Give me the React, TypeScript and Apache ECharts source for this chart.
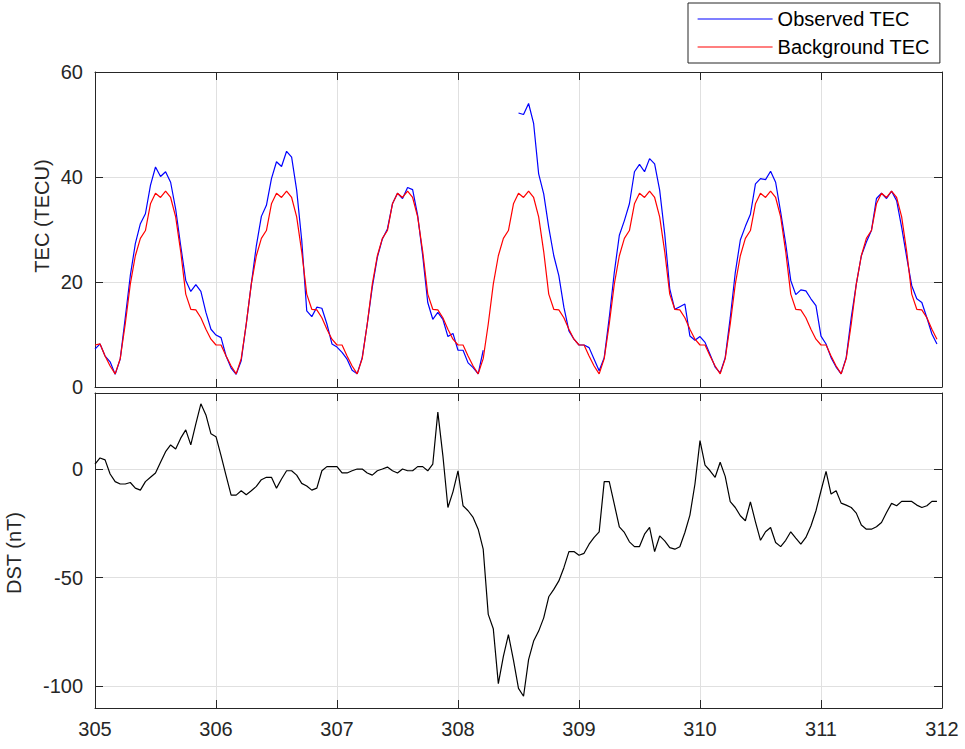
import React, { useEffect, useRef } from "react";
import * as echarts from "echarts";

// Time axis: hourly samples starting at day-of-year 305
const startDay = 305;
const samplesPerDay = 24;

// Observed TEC (TECU), hourly; null = no data
const observedTEC: (number | null)[] = [
  // 305
  7.2, 8.2, 5.9, 4.8, 2.4, 5.3, 13.2, 21.2, 27.3, 31.1, 33.0, 38.4, 41.9, 40.1, 41.0, 39.0, 33.9, 26.9, 20.3, 18.2, 19.5, 18.2, 14.2, 11.0,
  // 306
  9.9, 9.4, 5.9, 3.6, 2.4, 5.0, 12.0, 19.6, 26.9, 32.5, 34.6, 39.7, 42.9, 42.0, 44.9, 43.8, 37.5, 28.0, 14.5, 13.4, 15.2, 15.0, 12.0, 8.2,
  // 307
  7.6, 6.6, 5.3, 3.2, 2.5, 5.6, 12.0, 19.0, 24.7, 28.2, 30.1, 34.9, 36.9, 35.9, 38.0, 37.6, 32.7, 25.0, 16.1, 12.9, 14.2, 12.9, 9.6, 10.2,
  // 308
  7.0, 7.0, 4.6, 3.7, 2.5, 7.0, null, null, null, null, null, null, 52.2, 51.9, 54.0, 50.2, 40.6, 36.8, 30.4, 25.0, 21.2, 15.2, 10.7, 9.1,
  // 309
  8.0, 8.0, 7.5, 5.3, 3.1, 5.6, 13.2, 21.8, 28.9, 31.7, 34.9, 41.0, 42.4, 41.0, 43.5, 42.5, 37.5, 29.2, 18.7, 14.8, 15.3, 15.8, 9.7, 8.9,
  // 310
  9.6, 8.5, 6.2, 3.8, 2.7, 5.6, 13.2, 21.8, 28.0, 30.6, 32.9, 38.7, 39.7, 39.5, 41.1, 39.0, 33.3, 27.3, 20.3, 17.6, 18.5, 18.3, 16.8, 15.5,
  // 311
  9.7, 8.2, 5.6, 3.8, 2.5, 5.6, 13.2, 19.6, 25.0, 27.6, 29.8, 35.9, 36.9, 35.9, 37.3, 35.5, 30.4, 24.7, 19.3, 16.8, 16.1, 13.2, 10.1, 8.2,
];

// Background TEC (TECU), hourly
const backgroundTEC: number[] = [
  8.0, 8.2, 5.9, 4.0, 2.5, 5.4, 12.0, 19.6, 25.0, 28.3, 29.8, 34.9, 36.9, 36.1, 37.3, 36.1, 32.4, 25.8, 17.7, 14.8, 14.7, 13.2, 11.0, 9.1,
  8.0, 8.0, 5.9, 4.0, 2.5, 5.4, 12.0, 19.6, 25.0, 28.3, 29.8, 34.9, 36.9, 36.1, 37.3, 36.1, 32.4, 25.8, 17.7, 14.8, 14.7, 13.2, 11.0, 9.1,
  8.0, 8.0, 5.9, 4.0, 2.5, 5.4, 12.0, 19.6, 25.0, 28.3, 29.8, 34.9, 36.9, 36.1, 37.3, 36.1, 32.4, 25.8, 17.7, 14.8, 14.7, 13.2, 11.0, 9.1,
  8.0, 8.0, 5.9, 4.0, 2.5, 5.4, 12.0, 19.6, 25.0, 28.3, 29.8, 34.9, 36.9, 36.1, 37.3, 36.1, 32.4, 25.8, 17.7, 14.8, 14.7, 13.2, 11.0, 9.1,
  8.0, 8.0, 5.9, 4.0, 2.5, 5.4, 12.0, 19.6, 25.0, 28.3, 29.8, 34.9, 36.9, 36.1, 37.3, 36.1, 32.4, 25.8, 17.7, 14.8, 14.7, 13.2, 11.0, 9.1,
  8.0, 8.0, 5.9, 4.0, 2.5, 5.4, 12.0, 19.6, 25.0, 28.3, 29.8, 34.9, 36.9, 36.1, 37.3, 36.1, 32.4, 25.8, 17.7, 14.8, 14.7, 13.2, 11.0, 9.1,
  8.0, 8.0, 5.9, 4.0, 2.5, 5.4, 12.0, 19.6, 25.0, 28.3, 29.8, 34.9, 36.9, 36.1, 37.3, 36.1, 32.4, 25.8, 17.7, 14.8, 14.7, 13.2, 11.0, 9.1,
];

// DST index (nT), hourly
const dst: number[] = [
  // 305
  2.3, 5.1, 4.2, -2.3, -5.8, -6.9, -6.9, -6.2, -8.8, -9.7, -5.8, -3.8, -1.8, 3.1, 8.0, 11.1, 9.2, 14.2, 18.0, 11.1, 20.8, 30.0, 24.9, 16.2,
  // 306
  14.9, 6.2, -3.0, -12.0, -12.0, -10.0, -11.8, -10.0, -8.0, -4.9, -3.8, -3.8, -8.8, -4.6, -0.8, -0.8, -2.8, -6.6, -7.8, -9.7, -8.8, -0.8, 1.1, 1.1,
  // 307
  1.1, -1.8, -1.8, -0.8, 0.0, 0.0, -1.8, -2.8, -0.8, 0.0, 0.9, -0.8, -1.8, 0.0, -0.8, -0.8, 1.1, 1.1, -0.8, 2.3, 26.2, 6.2, -17.7, -10.5,
  // 308
  -0.8, -16.9, -19.2, -22.3, -27.7, -36.9, -66.9, -73.5, -98.8, -86.2, -76.2, -88.0, -101.0, -104.6, -87.7, -79.2, -74.6, -68.5, -58.8, -55.4, -51.5, -45.4, -38.0, -38.0,
  // 309
  -39.7, -38.8, -34.6, -31.5, -28.9, -5.8, -5.8, -16.2, -26.6, -29.2, -33.5, -35.7, -35.7, -30.0, -26.9, -38.0, -30.8, -33.1, -36.2, -36.9, -35.8, -29.2, -21.2, -6.9,
  // 310
  13.1, 1.8, -0.8, -3.8, 3.1, -3.4, -15.0, -17.7, -21.5, -23.8, -15.1, -24.3, -32.8, -28.9, -26.9, -33.8, -35.7, -32.8, -28.9, -31.8, -34.6, -31.5, -26.2, -19.2,
  // 311
  -10.0, -1.1, -11.5, -10.0, -15.7, -16.6, -17.7, -20.3, -25.8, -27.7, -27.7, -26.6, -24.6, -20.0, -15.8, -16.9, -14.9, -14.9, -14.9, -16.6, -17.7, -16.9, -14.9, -14.9,
];

const dayTicks = [305, 306, 307, 308, 309, 310, 311, 312];
const tecTicks = [0, 20, 40, 60];
const dstTicks = [-100, -50, 0];

const AX = "#262626";
const GRID = "#e0e0e0";
const FONT = "Liberation Sans, Arial, sans-serif";

function timeOf(i: number) {
  return startDay + i / samplesPerDay;
}

export default function App() {
  const ref = useRef<HTMLDivElement>(null);

  useEffect(() => {
    if (!ref.current) return;
    const chart = echarts.init(ref.current, null, { renderer: "svg" });

    const obsData = observedTEC.map((v, i) => [timeOf(i), v === null ? "-" : v]);
    const bgData = backgroundTEC.map((v, i) => [timeOf(i), v]);
    const dstData = dst.map((v, i) => [timeOf(i), v]);

    const tick = { show: true, inside: true, length: 8, lineStyle: { color: AX, width: 1 } };
    const line = { show: true, onZero: false, lineStyle: { color: AX, width: 1 } };
    const label = { color: AX, fontSize: 20, fontFamily: FONT };

    const xBase = (grid: number, pos: string, showLabel: boolean, showSplit: boolean) => ({
      type: "value",
      gridIndex: grid,
      position: pos,
      min: dayTicks[0],
      max: dayTicks[dayTicks.length - 1],
      interval: 1,
      axisLine: line,
      axisTick: tick,
      axisLabel: { ...label, show: showLabel, margin: 11 },
      splitLine: { show: showSplit, lineStyle: { color: GRID, width: 1 } },
    });

    const option: any = {
      animation: false,
      backgroundColor: "#ffffff",
      textStyle: { fontFamily: FONT },
      grid: [
        { left: 95, top: 72, width: 847, height: 315 },
        { left: 95, top: 393, width: 847, height: 315 },
      ],
      legend: {
        data: ["Observed TEC", "Background TEC"],
        orient: "vertical",
        left: 688,
        top: 3,
        padding: [6, 10, 6, 9],
        itemGap: 8,
        itemWidth: 75,
        itemHeight: 22,
        borderColor: AX,
        borderWidth: 1,
        borderRadius: 0,
        backgroundColor: "#ffffff",
        itemStyle: { opacity: 0 },
        lineStyle: { width: 1.2 },
        textStyle: { color: "#000", fontSize: 20, fontFamily: FONT, padding: [0, 0, 0, 0] },
        selectedMode: false,
      },
      xAxis: [
        xBase(0, "bottom", false, true),
        xBase(0, "top", false, false),
        xBase(1, "bottom", true, true),
        xBase(1, "top", false, false),
      ],
      yAxis: [
        {
          type: "value",
          gridIndex: 0,
          position: "left",
          min: tecTicks[0],
          max: tecTicks[tecTicks.length - 1],
          interval: 20,
          axisLine: line,
          axisTick: tick,
          axisLabel: { ...label, margin: 12 },
          splitLine: { show: true, lineStyle: { color: GRID, width: 1 } },
        },
        {
          type: "value",
          gridIndex: 0,
          position: "right",
          min: tecTicks[0],
          max: tecTicks[tecTicks.length - 1],
          interval: 20,
          axisLine: line,
          axisTick: tick,
          axisLabel: { show: false },
          splitLine: { show: false },
        },
        {
          type: "value",
          gridIndex: 1,
          position: "left",
          min: -110,
          max: 35,
          axisLine: line,
          axisTick: { ...tick, customValues: dstTicks },
          axisLabel: { ...label, margin: 12, customValues: dstTicks },
          splitLine: { show: true, lineStyle: { color: GRID, width: 1 } },
        },
        {
          type: "value",
          gridIndex: 1,
          position: "right",
          min: -110,
          max: 35,
          axisLine: line,
          axisTick: { ...tick, customValues: dstTicks },
          axisLabel: { show: false, customValues: dstTicks },
          splitLine: { show: false },
        },
      ],
      series: [
        {
          name: "Observed TEC",
          type: "line",
          xAxisIndex: 0,
          yAxisIndex: 0,
          data: obsData,
          symbol: "none",
          connectNulls: false,
          lineStyle: { color: "#0000ff", width: 1.2 },
          itemStyle: { color: "#0000ff" },
          z: 3,
        },
        {
          name: "Background TEC",
          type: "line",
          xAxisIndex: 0,
          yAxisIndex: 0,
          data: bgData,
          symbol: "none",
          lineStyle: { color: "#ff0000", width: 1.2 },
          itemStyle: { color: "#ff0000" },
          z: 4,
        },
        {
          name: "DST",
          type: "line",
          xAxisIndex: 2,
          yAxisIndex: 2,
          data: dstData,
          symbol: "none",
          lineStyle: { color: "#000000", width: 1.2 },
          itemStyle: { color: "#000000" },
        },
      ],
      graphic: [
        {
          type: "text",
          x: 42,
          y: 216,
          rotation: Math.PI / 2,
          style: {
            text: "TEC (TECU)",
            fill: AX,
            fontSize: 20,
            fontFamily: FONT,
            align: "center",
            verticalAlign: "middle",
          },
        },
        {
          type: "text",
          x: 14,
          y: 553,
          rotation: Math.PI / 2,
          style: {
            text: "DST (nT)",
            fill: AX,
            fontSize: 20,
            fontFamily: FONT,
            align: "center",
            verticalAlign: "middle",
          },
        },
      ],
    };

    chart.setOption(option);
    return () => chart.dispose();
  }, []);

  return (
    <div
      ref={ref}
      style={{ position: "fixed", left: 0, top: 0, width: 965, height: 749, background: "#fff" }}
    />
  );
}
